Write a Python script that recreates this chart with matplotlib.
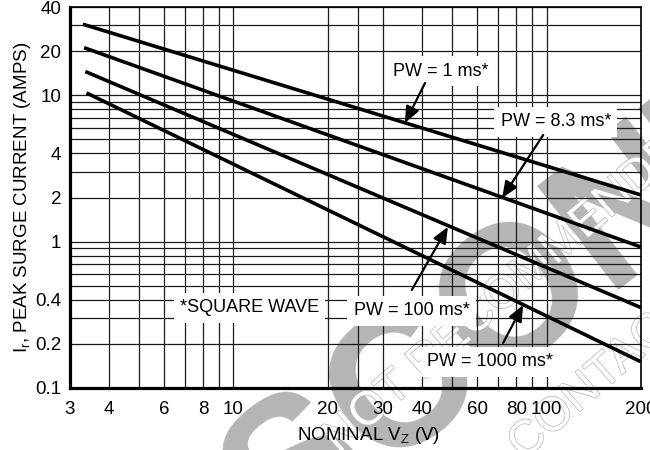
import matplotlib
matplotlib.use("Agg")
import matplotlib.pyplot as plt
from matplotlib.ticker import FixedLocator, NullFormatter, FixedFormatter
import matplotlib.patheffects as pe

# ---- data ----
vz_1ms = [3.31, 200]
ir_1ms = [30.5, 2.08]
vz_8ms = [3.34, 200]
ir_8ms = [21.1, 0.918]
vz_100ms = [3.37, 200]
ir_100ms = [14.5, 0.354]
vz_1000ms = [3.40, 200]
ir_1000ms = [10.35, 0.151]

x_tick_vals = [3, 4, 6, 8, 10, 20, 30, 40, 60, 80, 100, 200]
x_tick_labels = ["3", "4", "6", "8", "10", "20", "30", "40", "60", "80", "100", "200"]
x_minor_grid = [5, 7, 9, 25, 50, 70, 90]
y_tick_vals = [0.1, 0.2, 0.4, 1, 2, 4, 10, 20, 40]
y_tick_labels = ["0.1", "0.2", "0.4", "1", "2", "4", "10", "20", "40"]
y_minor_grid = [0.3, 0.5, 0.6, 0.7, 0.8, 0.9, 3, 5, 6, 7, 8, 9, 30]

REG = ["Liberation Sans", "DejaVu Sans"]
plt.rcParams["font.family"] = REG
plt.rcParams["mathtext.fontset"] = "custom"
plt.rcParams["mathtext.rm"] = "Liberation Sans"
plt.rcParams["mathtext.it"] = "Liberation Sans"

fig = plt.figure(figsize=(6.5, 4.5), dpi=100)
ax = fig.add_axes([69.5 / 650, 62 / 450, 571.5 / 650, 381 / 450])
ax.set_xscale("log")
ax.set_yscale("log")
ax.set_xlim(3, 200)
ax.set_ylim(0.1, 40)

ax.xaxis.set_major_locator(FixedLocator(x_tick_vals))
ax.xaxis.set_major_formatter(FixedFormatter(x_tick_labels))
ax.xaxis.set_minor_locator(FixedLocator(x_minor_grid))
ax.xaxis.set_minor_formatter(NullFormatter())
ax.yaxis.set_major_locator(FixedLocator(y_tick_vals))
ax.yaxis.set_major_formatter(FixedFormatter(y_tick_labels))
ax.yaxis.set_minor_locator(FixedLocator(y_minor_grid))
ax.yaxis.set_minor_formatter(NullFormatter())

ax.grid(True, which="both", color="#1a1a1a", linewidth=0.9)
ax.tick_params(which="both", length=0)
ax.tick_params(axis="x", pad=9, labelsize=13.5)
ax.tick_params(axis="y", pad=6, labelsize=13.5)

for side in ["left", "bottom"]:
    ax.spines[side].set_linewidth(2.3)
for side in ["top", "right"]:
    ax.spines[side].set_linewidth(1.2)

# watermark (behind the grid)
ax.text(672 / 650, 1 - 175 / 450, "DISCONTINUED", transform=fig.transFigure,
        fontsize=138, fontweight="bold", color="#b5b5b5",
        rotation=38, rotation_mode="anchor", ha="center", va="center",
        zorder=0.2, clip_on=False)
for (xx, yy, s) in [(345 / 650, 1 - 462 / 450, "NOT RECOMMENDED FOR NEW DESIGN"),
                    (530 / 650, 1 - 468 / 450, "CONTACT YOUR REPRESENTATIVE")]:
    ax.text(xx, yy, s, transform=fig.transFigure, fontsize=34, color="white",
            rotation=41, rotation_mode="anchor", ha="left",
            va="bottom", zorder=0.2, clip_on=False,
            path_effects=[pe.Stroke(linewidth=1.0, foreground="#b5b5b5"), pe.Normal()])

lw = 2.6
ax.plot(vz_1ms, ir_1ms, color="black", lw=lw, zorder=3, solid_capstyle="butt")
ax.plot(vz_8ms, ir_8ms, color="black", lw=lw, zorder=3, solid_capstyle="butt")
ax.plot(vz_100ms, ir_100ms, color="black", lw=lw, zorder=3, solid_capstyle="butt")
ax.plot(vz_1000ms, ir_1000ms, color="black", lw=lw, zorder=3, solid_capstyle="butt")

box = dict(boxstyle="square,pad=0.35", fc="white", ec="none")
fs = 13
ax.text(46.0, 14.6, "PW = 1 ms*", fontsize=fs, ha="center", va="center", bbox=box, zorder=4)
ax.text(107, 6.56, "PW = 8.3 ms*", fontsize=fs, ha="center", va="center", bbox=box, zorder=4)
ax.text(37.1, 0.336, "PW = 100 ms*", fontsize=fs, ha="center", va="center", bbox=box, zorder=4)
ax.text(65.9, 0.151, "PW = 1000 ms*", fontsize=fs, ha="center", va="center", bbox=box, zorder=4)
ax.text(11.27, 0.352, "*SQUARE WAVE", fontsize=fs, ha="center", va="center", bbox=box, zorder=4)

arrows = [((40.9, 12.1), (35.3, 6.46)),
          ((97.5, 5.35), (72.1, 1.99)),
          ((37.1, 0.467), (48.4, 1.26)),
          ((72.6, 0.203), (84.1, 0.369))]
for tail, head in arrows:
    ax.annotate("", xy=head, xytext=tail,
                arrowprops=dict(arrowstyle="-|>,head_length=0.7,head_width=0.3",
                                color="black", lw=1.6, shrinkA=0, shrinkB=0,
                                mutation_scale=14),
                zorder=5)

ax.set_xlabel(r"NOMINAL V$_{\mathrm{Z}}$ (V)", fontsize=13.5)
ax.xaxis.set_label_coords(0.523, -0.097)
ax.set_ylabel(r"I$_{\mathrm{r}}$, PEAK SURGE CURRENT (AMPS)", fontsize=13.5)
ax.yaxis.set_label_coords(-0.064, 0.5)

fig.savefig("out.png", dpi=100)
